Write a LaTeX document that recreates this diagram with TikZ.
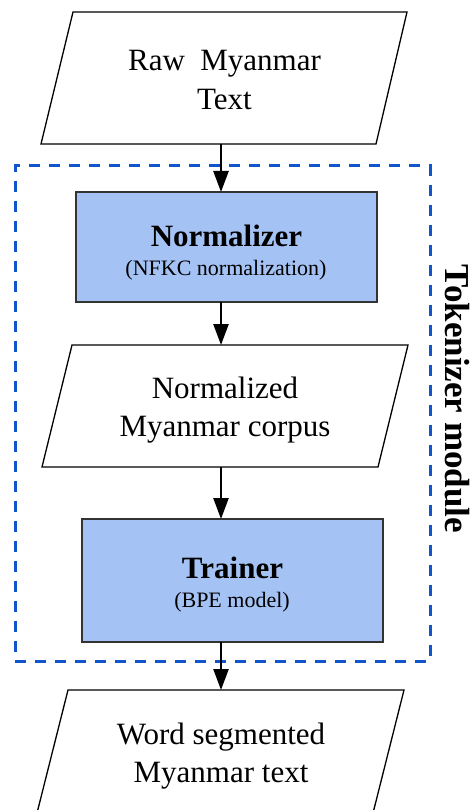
\documentclass[tikz,border=0pt]{standalone}
\usepackage{fontspec}
\setmainfont{Liberation Serif}
\usetikzlibrary{arrows.meta}
\definecolor{boxfill}{HTML}{A4C2F4}
\definecolor{dashblue}{HTML}{1155CC}
\definecolor{boxline}{HTML}{333333}
\begin{document}
\begin{tikzpicture}[x=1pt,y=-1pt,
  paraline/.style={draw=black, line width=1.3pt, line join=miter},
  procbox/.style={draw=boxline, fill=boxfill, line width=1.5pt, minimum width=301pt, inner sep=0pt, outer sep=0pt},
  maintext/.style={font=\fontsize{31}{38.5}\selectfont, align=center, inner sep=0pt},
  titletext/.style={font=\bfseries\fontsize{31}{37}\selectfont, inner sep=0pt, anchor=base},
  subtext/.style={font=\fontsize{22}{26}\selectfont, inner sep=0pt, anchor=base},
  flow/.style={-{Triangle[length=21pt,width=15pt]}, line width=2.5pt, draw=black},
  tokbox/.style={draw=dashblue, line width=3pt, dash pattern=on 11pt off 9pt, minimum width=415pt, minimum height=495pt, inner sep=0pt, outer sep=0pt}]
\useasboundingbox (0,0) rectangle (471,810);
\clip (0,0) rectangle (471,810);

\node[tokbox] (tok) at (222.5,413.5) {};

% Raw Myanmar Text
\draw[paraline] (73,12) -- (407,12) -- (376,144) -- (41,144) -- cycle;
\coordinate (rawbot) at (221,144);
\node[maintext] (rawt) at (224.5,80) {Raw~~Myanmar\\Text};

\node[procbox, minimum height=110pt] (norm) at (226.5,247) {};
\node[titletext] (normt) at (226.5,246) {Normalizer};
\node[subtext] (norms) at (226,275) {(NFKC normalization)};

% Normalized corpus
\draw[paraline] (72,345) -- (408,345) -- (378,467) -- (42,467) -- cycle;
\coordinate (corptop) at (221,345);
\coordinate (corpbot) at (221,467);
\node[maintext] (corpt) at (225,410) {Normalized\\Myanmar corpus};

\node[procbox, minimum height=123pt] (train) at (232.5,580.5) {};
\node[titletext] (traint) at (232.5,578) {Trainer};
\node[subtext] (trains) at (232,607) {(BPE model)};

% Word segmented text
\draw[paraline] (68,690) -- (404,690) -- (371,821) -- (35,821) -- cycle;
\coordinate (segtop) at (221,690);
\node[maintext] (segt) at (221,756) {Word segmented\\Myanmar text};

\node[font=\bfseries\fontsize{35}{42}\selectfont, rotate=-90, inner sep=0pt] (tokl) at (457,399) {Tokenizer module};

\coordinate (ax) at (221,0);
\draw[flow] (rawbot) -- (norm.north -| ax);
\draw[flow] (norm.south -| ax) -- (corptop);
\draw[flow] (corpbot) -- (train.north -| ax);
\draw[flow] (train.south -| ax) -- (segtop);
\end{tikzpicture}
\end{document}
